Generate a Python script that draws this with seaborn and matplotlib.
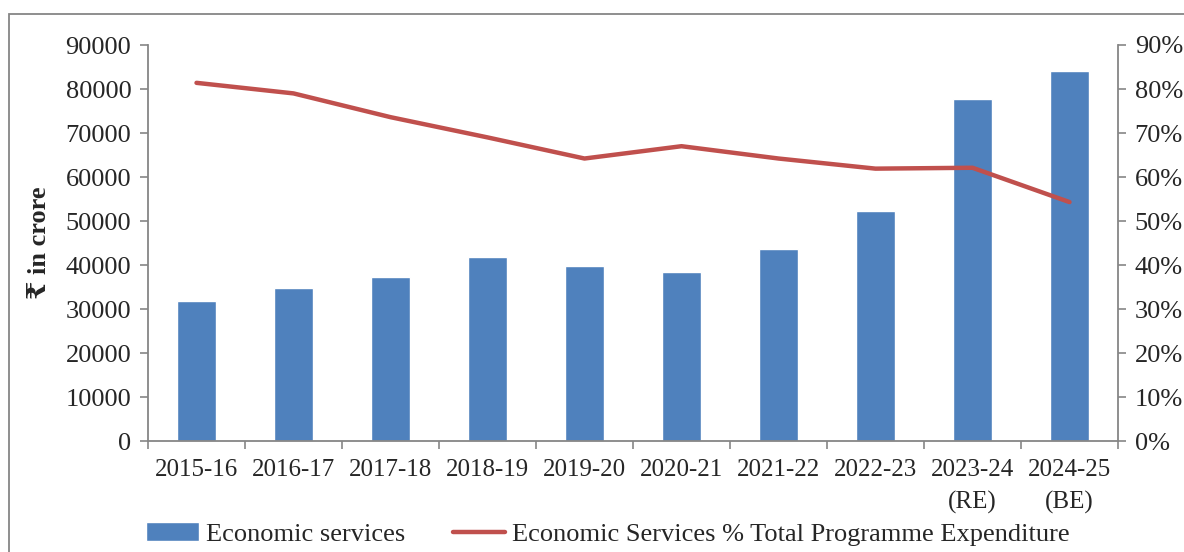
import numpy as np
import pandas as pd
import matplotlib
matplotlib.use("Agg")
import matplotlib.pyplot as plt
from matplotlib.patches import Rectangle
from matplotlib.ticker import FixedLocator, PercentFormatter
import seaborn as sns

# Economic services expenditure (₹ crore) and its share of total programme expenditure
years = ["2015-16", "2016-17", "2017-18", "2018-19", "2019-20", "2020-21",
         "2021-22", "2022-23", "2023-24\n(RE)", "2024-25\n(BE)"]
economic_services = [31800, 34700, 37200, 41750, 39770, 38340, 43560, 52350, 77650, 84100]
share_pct = [81.4, 79.0, 73.6, 69.0, 64.2, 67.0, 64.2, 61.9, 62.1, 54.3]
left_ticks = [0, 10000, 20000, 30000, 40000, 50000, 60000, 70000, 80000, 90000]
right_ticks = [0, 10, 20, 30, 40, 50, 60, 70, 80, 90]

BAR_COLOR = "#4F81BD"
LINE_COLOR = "#C0504D"
AXIS_GREY = "#868686"

sns.set_theme(style="white")
plt.rcParams["font.family"] = ["Liberation Serif", "DejaVu Serif", "DejaVu Sans"]
FS = 19

df = pd.DataFrame({"year": years, "value": economic_services, "share": share_pct})

fig = plt.figure(figsize=(11.84, 5.52), dpi=100)
ax = fig.add_axes([148 / 1184, 1 - 441 / 552, (1118 - 148) / 1184, (441 - 45) / 552])

sns.barplot(data=df, x="year", y="value", color=BAR_COLOR, width=0.4,
            saturation=1, ax=ax)
if ax.get_legend() is not None:
    ax.get_legend().remove()

ax2 = ax.twinx()
sns.lineplot(x=np.arange(len(years)), y=df["share"], color=LINE_COLOR, lw=3.2,
             ax=ax2, legend=False)

ax.set_xlim(-0.5, len(years) - 0.5)
ax.set_ylim(0, 90000)
ax2.set_ylim(0, 90)
ax.set_yticks(left_ticks)
ax.set_yticklabels([str(t) for t in left_ticks])
ax2.set_yticks(right_ticks)
ax2.yaxis.set_major_formatter(PercentFormatter(decimals=0))

# category labels centred, tick marks on category boundaries
ax.set_xticks(range(len(years)))
ax.set_xticklabels(years, linespacing=1.55)
ax.xaxis.set_minor_locator(FixedLocator(np.arange(-0.5, len(years), 1.0)))
ax.tick_params(axis="x", which="major", length=0, pad=13, labelsize=18)
ax.tick_params(axis="x", which="minor", length=6, width=1.2, color=AXIS_GREY,
               direction="out", bottom=True)
ax.tick_params(axis="y", length=6, width=1.2, color=AXIS_GREY, direction="out",
               left=True, labelsize=FS, pad=6)
ax2.tick_params(axis="y", length=6, width=1.2, color=AXIS_GREY, direction="out",
                right=True, labelsize=FS, pad=6)

for a in (ax, ax2):
    a.spines["top"].set_visible(False)
    for s in ("left", "right", "bottom"):
        a.spines[s].set_color(AXIS_GREY)
        a.spines[s].set_linewidth(1.3)
    a.set_xlabel("")
ax.spines["right"].set_visible(False)
ax2.spines["left"].set_visible(False)
ax2.spines["bottom"].set_visible(False)
ax2.set_ylabel("")

ax.set_ylabel("₹ in crore", fontsize=FS, fontweight="bold")
ax.yaxis.set_label_coords(-0.0996, 0.5)

handles = [ax.containers[0], ax2.lines[0]]
labels = ["Economic services", "Economic Services % Total Programme Expenditure"]
fig.legend(handles, labels, loc="center", bbox_to_anchor=(608 / 1184, 1 - 534 / 552),
           ncol=2, frameon=False, fontsize=FS, handlelength=2.0, handleheight=0.7,
           handletextpad=0.25, columnspacing=1.8)

# outer chart-area frame
fig.patches.append(Rectangle((9 / 1184, -0.05), 1.2, 1 - 14 / 552 + 0.05,
                             transform=fig.transFigure, fill=False,
                             edgecolor=AXIS_GREY, linewidth=1.3, zorder=0))

fig.savefig("out.png", dpi=100)
